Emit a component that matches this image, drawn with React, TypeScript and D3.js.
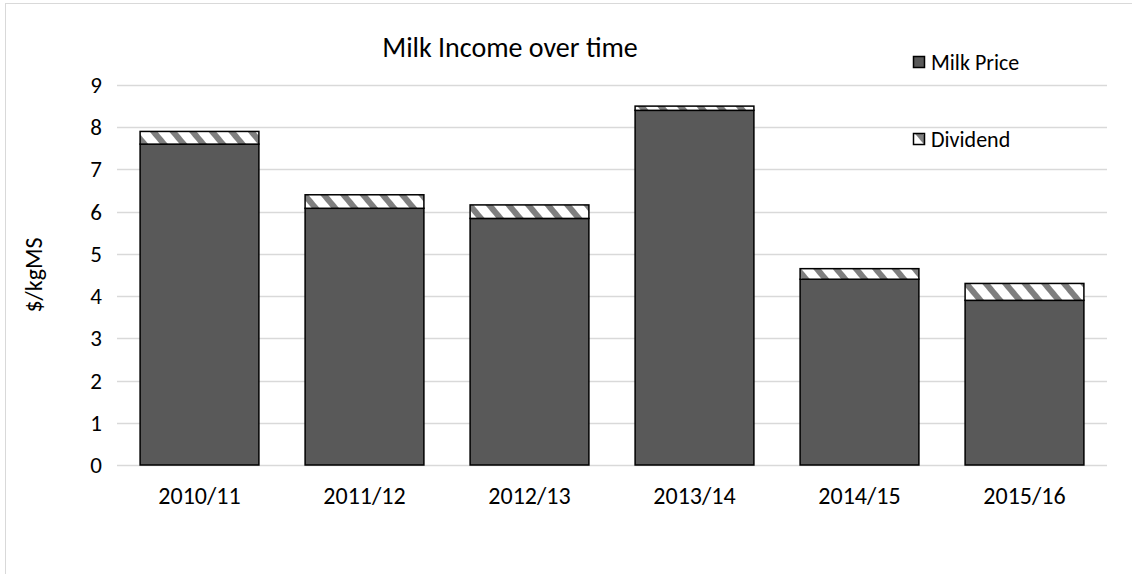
import React from "react";
import * as d3 from "d3";

const categories = ["2010/11", "2011/12", "2012/13", "2013/14", "2014/15", "2015/16"];
const milkPrice = [7.6, 6.08, 5.84, 8.4, 4.4, 3.9];
const dividend = [0.3, 0.32, 0.32, 0.1, 0.25, 0.4];
const yTicks = [0, 1, 2, 3, 4, 5, 6, 7, 8, 9];
const seriesNames = ["Milk Price", "Dividend"];

const W = 1132;
const H = 574;
const left = 117;
const right = 1107;
const top = 85;
const bottom = 465;
const FONT = "Carlito, 'Open Sans', 'Noto Sans', sans-serif";

export default function App() {
  const x = d3.scaleBand<string>().domain(categories).range([left, right]).paddingInner(0.28).paddingOuter(0.14);
  const y = d3.scaleLinear().domain([0, 9]).range([bottom, top]);

  return (
    <svg width={W} height={H} style={{ position: "absolute", left: 0, top: 0 }}>
      <defs>
        <pattern id="hatch" patternUnits="userSpaceOnUse" width="15" height="15" patternTransform="rotate(-40)">
          <rect width="15" height="15" fill="#ffffff" />
          <rect x="0" y="0" width="6" height="15" fill="#7f7f7f" />
        </pattern>
      </defs>
      <rect x={0} y={0} width={W} height={H} fill="#ffffff" />
      <rect x={5.5} y={3.5} width={W + 10} height={H + 10} fill="none" stroke="#d9d9d9" strokeWidth={1} />

      {yTicks.map((t) => (
        <g key={t}>
          <line x1={left} x2={right} y1={Math.round(y(t)) + 0.5} y2={Math.round(y(t)) + 0.5} stroke="#d9d9d9" strokeWidth={1.5} />
          <text x={102} y={y(t)} dy="0.35em" textAnchor="end" fontFamily={FONT} fontSize={23} fill="#000">
            {t}
          </text>
        </g>
      ))}

      {categories.map((c, i) => {
        const bx = x(c)!;
        const bw = x.bandwidth();
        const p0 = y(0);
        const p1 = y(milkPrice[i]);
        const d1 = y(milkPrice[i] + dividend[i]);
        return (
          <g key={c}>
            <rect x={bx} y={p1} width={bw} height={p0 - p1} fill="#595959" stroke="#000" strokeWidth={1.5} />
            <rect x={bx} y={d1} width={bw} height={p1 - d1} fill="url(#hatch)" stroke="#000" strokeWidth={1.5} />
            <text x={bx + bw / 2} y={496} dy="0.35em" textAnchor="middle" fontFamily={FONT} fontSize={24} fill="#000">
              {c}
            </text>
          </g>
        );
      })}

      <text x={510} y={47} dy="0.35em" textAnchor="middle" fontFamily={FONT} fontSize={28} fill="#000">
        Milk Income over time
      </text>

      <text transform={`translate(34,${(top + bottom) / 2}) rotate(-90)`} dy="0.35em" textAnchor="middle" fontFamily={FONT} fontSize={24} fill="#000">
        $/kgMS
      </text>

      <g>
        <rect x={913.5} y={56.5} width={11} height={11} fill="#595959" stroke="#000" strokeWidth={1.5} />
        <text x={931} y={62} dy="0.35em" fontFamily={FONT} fontSize={22} fill="#000">
          {seriesNames[0]}
        </text>
        <rect x={913.5} y={133.5} width={11} height={11} fill="url(#hatch)" stroke="#000" strokeWidth={1.5} />
        <text x={931} y={139} dy="0.35em" fontFamily={FONT} fontSize={22} fill="#000">
          {seriesNames[1]}
        </text>
      </g>
    </svg>
  );
}
